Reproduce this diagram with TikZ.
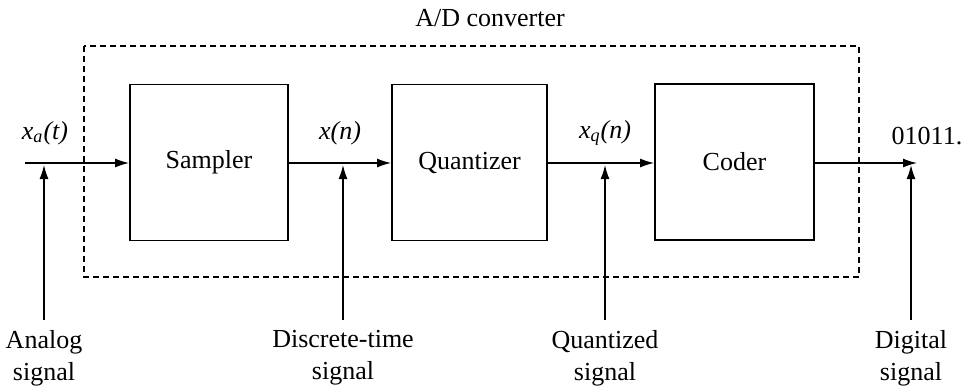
\documentclass[tikz,border=0pt]{standalone}
\usepackage{fontspec}
\setmainfont{Liberation Serif}
\usetikzlibrary{arrows.meta}
\begin{document}
\begin{tikzpicture}[x=0.5pt,y=-0.5pt,
  every node/.style={font=\fontsize{13}{16}\selectfont},
  blockbox/.style={draw,line width=0.9pt,minimum height=78pt,inner sep=0pt},
  sig/.style={line width=0.7pt,-{Latex[length=7pt,width=4.5pt]}},
  lbl/.style={align=center,anchor=north,inner sep=0pt}]
\useasboundingbox (0,0) rectangle (973,385);
\draw[line width=0.6pt,dash pattern=on 3pt off 2pt] (84,46) rectangle (859,277);
\node at (490,18) (adc) {A/D converter};
\node[blockbox,minimum width=79pt] (samp) at (209,162.5) {Sampler};
\node[blockbox,minimum width=77.5pt] (quant) at (469.5,162.5) {Quantizer};
\node[blockbox,minimum width=79.5pt] (coder) at (734.5,162) {Coder};
\coordinate (in) at (25,163);
\coordinate (out) at (917,163);
\draw[sig] (in) -- (samp.west |- in);
\draw[sig] (samp.east |- in) -- (quant.west |- in);
\draw[sig] (quant.east |- in) -- (coder.west |- in);
\draw[sig] (coder.east |- in) -- (out);
\node (xa) at (45,133) {\itshape x\textsubscript{a}(t)};
\node (xn) at (340,133) {\itshape x(n)};
\node (xq) at (605,133) {\itshape x\textsubscript{q}(n)};
\node (bits) at (927,136) {01011.};
\node[lbl] (la) at (44,330) {Analog\\signal};
\node[lbl] (ld) at (343,330) {Discrete-time\\signal};
\node[lbl] (lq) at (605,330) {Quantized\\signal};
\node[lbl] (lg) at (911,330) {Digital\\signal};
\coordinate (pa) at (44,165);
\coordinate (pd) at (343,165);
\coordinate (pq) at (605,165);
\coordinate (pg) at (911,165);
\draw[sig] (44,320) -- (pa);
\draw[sig] (343,320) -- (pd);
\draw[sig] (605,320) -- (pq);
\draw[sig] (911,320) -- (pg);
\end{tikzpicture}
\end{document}
